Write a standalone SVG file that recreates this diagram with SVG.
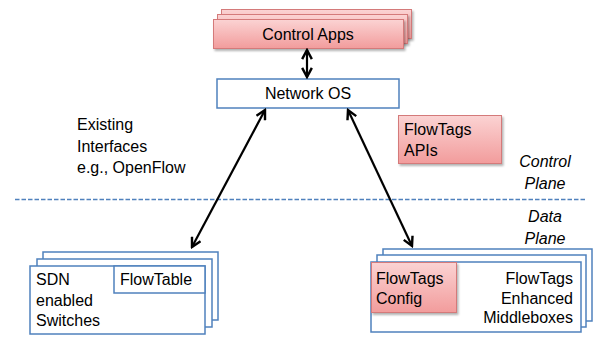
<svg xmlns="http://www.w3.org/2000/svg" width="595" height="337" viewBox="0 0 595 337">
<defs>
<linearGradient id="pink" x1="0" y1="0" x2="0" y2="1">
<stop offset="0" stop-color="#fbd3d3"/>
<stop offset="1" stop-color="#f29c9c"/>
</linearGradient>
<filter id="sh" x="-10%" y="-10%" width="130%" height="140%">
<feDropShadow dx="1.5" dy="2" stdDeviation="1.2" flood-color="#000" flood-opacity="0.3"/>
</filter>
<marker id="arr" viewBox="0 0 10 10" refX="8.5" refY="5" markerWidth="5.5" markerHeight="5.5" orient="auto-start-reverse" markerUnits="strokeWidth">
<path d="M1,1 L8.5,5 L1,9" fill="none" stroke="#000" stroke-width="2"/>
</marker>
</defs>
<style>
text{font-family:"Liberation Sans",Arial,sans-serif;font-size:16px;fill:#000}
.it{font-style:italic;text-anchor:middle}
.pk{fill:url(#pink);stroke:#d47a7a;stroke-width:1}
.bl{fill:#fff;stroke:#4f81bd;stroke-width:1.5}
.con{stroke:#000;stroke-width:2.2;fill:none;marker-start:url(#arr);marker-end:url(#arr)}
</style>
<rect width="595" height="337" fill="#fff"/>

<g id="control-apps">
<rect class="pk" x="221.5" y="9.5" width="190" height="29" filter="url(#sh)"/>
<rect class="pk" x="217.5" y="14.5" width="190" height="29" filter="url(#sh)"/>
<rect class="pk" x="213.5" y="19.5" width="190" height="29" filter="url(#sh)"/>
<text x="308" y="40" text-anchor="middle">Control Apps</text>
</g>

<g id="network-os">
<rect class="bl" x="217" y="79" width="182" height="29"/>
<text x="308" y="99" text-anchor="middle">Network OS</text>
</g>

<g id="flowtags-apis">
<rect class="pk" x="398.5" y="115.5" width="103" height="48" filter="url(#sh)"/>
<text x="404" y="135">FlowTags</text>
<text x="404" y="156">APIs</text>
</g>

<g id="existing-interfaces">
<text x="77" y="130">Existing</text>
<text x="77" y="152">Interfaces</text>
<text x="77" y="173">e.g., OpenFlow</text>
</g>

<g id="plane-labels">
<text class="it" x="545" y="167">Control</text>
<text class="it" x="545" y="189">Plane</text>
<text class="it" x="545" y="222">Data</text>
<text class="it" x="545" y="244">Plane</text>
</g>

<g id="divider">
<line x1="15" y1="199.5" x2="586" y2="199.5" stroke="#4f81bd" stroke-width="1.5" stroke-dasharray="4.5 2"/>
</g>

<g id="sdn-switches">
<rect class="bl" x="43" y="252" width="175" height="68"/>
<rect class="bl" x="37" y="259" width="175" height="68"/>
<rect class="bl" x="30" y="266" width="175" height="68"/>
<rect class="bl" x="114" y="266" width="91" height="27"/>
<text x="120" y="285">FlowTable</text>
<text x="36" y="285">SDN</text>
<text x="36" y="306">enabled</text>
<text x="36" y="326">Switches</text>
</g>

<g id="middleboxes">
<rect class="bl" x="383" y="249" width="209" height="72"/>
<rect class="bl" x="377" y="255" width="209" height="72"/>
<rect class="bl" x="371" y="262" width="210" height="70"/>
<rect class="pk" x="371.5" y="262.5" width="85" height="50" filter="url(#sh)"/>
<text x="376" y="284">FlowTags</text>
<text x="376" y="304">Config</text>
<text x="573" y="284" text-anchor="end">FlowTags</text>
<text x="573" y="304" text-anchor="end">Enhanced</text>
<text x="573" y="323" text-anchor="end">Middleboxes</text>
</g>

<g id="connectors">
<line class="con" x1="307" y1="50" x2="307" y2="77"/>
<line class="con" x1="265" y1="110" x2="192" y2="247"/>
<line class="con" x1="348" y1="110" x2="412" y2="246"/>
</g>
</svg>
